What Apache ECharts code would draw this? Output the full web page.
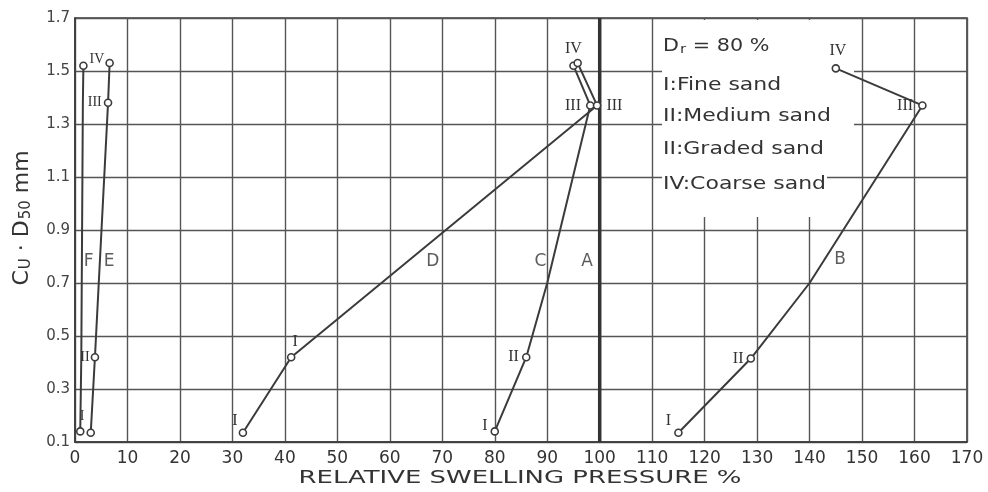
<!DOCTYPE html>
<html><head><meta charset="utf-8">
<script src="https://cdn.jsdelivr.net/npm/echarts@6/dist/echarts.min.js"></script>
<style>html,body{margin:0;padding:0;background:#fff}#c{width:988px;height:492px}</style>
</head><body><div id="c"></div>
<script>
// ---- data ----
const xMin = 0, xMax = 170, xStep = 10;
const yMin = 0.1, yMax = 1.7, yStep = 0.2;

// curve B
const curveB = [[115.0,0.135],[128.8,0.415],[140.0,0.70],[161.5,1.37],[145.0,1.51]];
const curveBLabels = ['I','II','','III','IV'];
const curveBMarkers = [1,1,0,1,1];
// curve C
const curveC = [[80.0,0.14],[86.0,0.42],[90.0,0.70],[98.2,1.37],[95.0,1.52]];
const curveCLabels = ['I','II','','III','IV'];
const curveCMarkers = [1,1,0,1,1];
// curve D
const curveD = [[32.0,0.135],[41.2,0.42],[99.5,1.37],[95.8,1.53]];
const curveDLabels = ['I','I','III',''];
const curveDMarkers = [1,1,1,1];
// curve E
const curveE = [[3.0,0.135],[3.8,0.42],[6.3,1.38],[6.6,1.53]];
const curveELabels = ['I','II','III','IV'];
const curveEMarkers = [1,1,1,1];
// curve F
const curveF = [[1.0,0.14],[1.2,0.42],[1.5,1.38],[1.6,1.52]];
const curveFLabels = ['','','',''];
const curveFMarkers = [1,0,0,1];
// reference line A (100 %)
const curveA = [[100,0.1],[100,1.7]];

// curve letters [x, y, name]
const curveLetters = [[2.6,0.78,'F'],[6.5,0.78,'E'],[68.2,0.78,'D'],[88.7,0.78,'C'],[97.6,0.78,'A'],[145.8,0.79,'B']];

const legendLines = ['I:Fine sand','II:Medium sand','II:Graded sand','IV:Coarse sand'];
const xAxisTitle = 'RELATIVE SWELLING PRESSURE %';

// ---- chart ----
const INK = '#3b3b3b';
const GRID = '#555';
const chart = echarts.init(document.getElementById('c'), null, {renderer:'canvas'});

function build(points, labels, markers, positions, offsets, fontSize) {
  return points.map((p, i) => {
    const item = {value: p};
    if (!markers[i]) item.symbol = 'none';
    if (labels[i]) {
      item.label = {show:true, formatter: labels[i], position: positions[i] || 'left',
        distance: fontSize ? 1 : 3, offset: (offsets && offsets[i]) || [0,0]};
      if (fontSize) item.label.fontSize = fontSize;
    }
    return item;
  });
}

const lineBase = {
  type:'line', symbol:'circle', symbolSize:7, z:3,
  lineStyle:{color:INK, width:2},
  itemStyle:{color:'#fff', borderColor:INK, borderWidth:1.6},
  label:{fontFamily:'Liberation Serif', fontSize:16, color:'#333'},
  emphasis:{disabled:true}, animation:false
};

const option = {
  backgroundColor:'#ffffff',
  animation:false,
  grid:{left:75, right:21, top:18, bottom:50, show:true, borderColor:INK, borderWidth:1.6},
  xAxis:{type:'value', min:xMin, max:xMax, interval:xStep,
    axisLine:{show:true, lineStyle:{color:INK, width:1.6}},
    axisTick:{show:false},
    axisLabel:{color:'#333', fontSize:17, fontFamily:'DejaVu Sans', margin:8},
    splitLine:{show:true, lineStyle:{color:GRID, width:1.4}}},
  yAxis:{type:'value', min:yMin, max:yMax, interval:yStep,
    axisLine:{show:true, lineStyle:{color:INK, width:1.6}},
    axisTick:{show:false},
    axisLabel:{color:'#444', fontSize:15, fontFamily:'DejaVu Sans', margin:5,
      formatter:v => v.toFixed(1)},
    splitLine:{show:true, lineStyle:{color:GRID, width:1.4}}},
  series:[
    Object.assign({}, lineBase, {name:'A', data:curveA, symbol:'none', lineStyle:{color:'#333', width:3.5}}),
    Object.assign({}, lineBase, {name:'B', data:build(curveB, curveBLabels, curveBMarkers,
      ['left','left','left','left','top'], [[0,-12],[0,0],[0,0],[-2,0],[2,-2]])}),
    Object.assign({}, lineBase, {name:'C', data:build(curveC, curveCLabels, curveCMarkers,
      ['left','left','left','left','top'], [[0,-6],[0,0],[0,0],[-2,0],[0,-2]])}),
    Object.assign({}, lineBase, {name:'D', data:build(curveD, curveDLabels, curveDMarkers,
      ['left','top','right','top'], [[2,-12],[4,0],[2,0],[0,0]])}),
    Object.assign({}, lineBase, {name:'E', data:build(curveE, curveELabels, curveEMarkers,
      ['left','left','left','left'], [[-1,-16],[0,0],[-1,0],[0,-4]], 14)}),
    Object.assign({}, lineBase, {name:'F', data:build(curveF, curveFLabels, curveFMarkers,
      ['left','left','left','left'])}),
    {type:'scatter', name:'letters', data:curveLetters, symbolSize:0, z:4, silent:true,
      label:{show:true, position:'inside', formatter:p => p.value[2],
        fontFamily:'DejaVu Sans', fontSize:17, color:'#333'}}
  ],
  graphic:[
    {type:'rect', z:1, shape:{x:662, y:20, width:192, height:108}, style:{fill:'#fff'}},
    {type:'rect', z:1, shape:{x:662, y:128, width:165, height:89}, style:{fill:'#fff'}},
    {type:'text', z:5, x:663, y:46, scaleX:1.15, style:{
      text:'{n|D}{s|r}{n| = 80 %}', verticalAlign:'middle', align:'left',
      rich:{n:{fontFamily:'DejaVu Sans', fontSize:18, fill:'#333'},
            s:{fontFamily:'DejaVu Sans', fontSize:13, fill:'#333', padding:[8,0,0,1]}}}},
    ...legendLines.map((t, i) => ({type:'text', z:5, x:663, y:[85,116,149,184][i], scaleX:1.22,
      style:{text:t, fontFamily:'DejaVu Sans', fontSize:18, fill:'#333', align:'left', verticalAlign:'middle'}})),
    {type:'text', z:5, x:520, y:478, scaleX:1.44, style:{text:xAxisTitle,
      fontFamily:'DejaVu Sans', fontSize:18, fill:'#333', align:'center', verticalAlign:'middle'}},
    {type:'text', z:5, x:22, y:218, rotation:Math.PI/2, style:{
      text:'{n|C}{s|U}{n| · D}{s|50}{n| mm}', align:'center', verticalAlign:'middle',
      rich:{n:{fontFamily:'DejaVu Sans', fontSize:22, fill:'#333'},
            s:{fontFamily:'DejaVu Sans', fontSize:15, fill:'#333', padding:[9,0,0,1]}}}}
  ]
};
chart.setOption(option);
</script></body></html>
